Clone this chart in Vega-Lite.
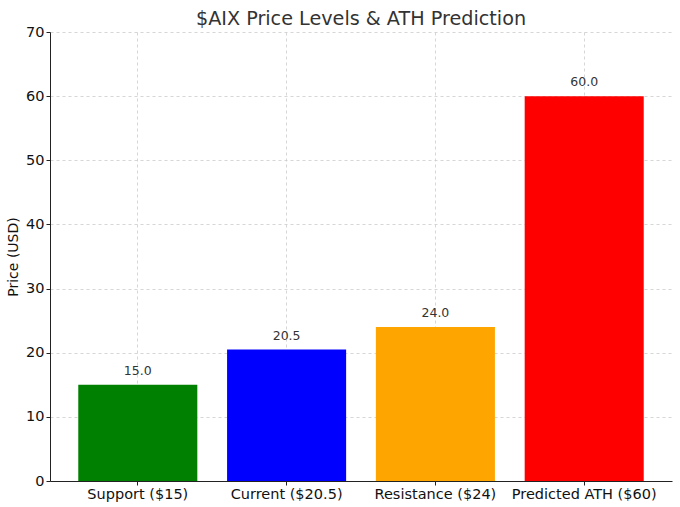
{
  "$schema": "https://vega.github.io/schema/vega-lite/v6.json",
  "autosize": "none",
  "width": 622,
  "height": 449,
  "padding": {"left": 50, "top": 32, "right": 8, "bottom": 26},
  "background": "white",
  "title": {
    "text": "$AIX Price Levels & ATH Prediction",
    "font": "DejaVu Sans",
    "fontSize": 19.2,
    "fontWeight": "normal",
    "color": "#333333",
    "offset": -5
  },
  "config": {
    "view": {"stroke": null},
    "axis": {
      "labelFont": "DejaVu Sans",
      "titleFont": "DejaVu Sans",
      "labelFontSize": 14.5,
      "titleFontSize": 14,
      "titleFontWeight": "normal",
      "labelColor": "#111111",
      "titleColor": "#111111",
      "domainColor": "#222222",
      "tickColor": "#222222",
      "gridColor": "#cccccc",
      "gridDash": [3, 3],
      "gridOpacity": 0.8,
      "tickSize": 4
    }
  },
  "data": {
    "values": [
      {"level": "Support ($15)", "price": 15.0, "color": "#008000"},
      {"level": "Current ($20.5)", "price": 20.5, "color": "#0000ff"},
      {"level": "Resistance ($24)", "price": 24.0, "color": "#ffa500"},
      {"level": "Predicted ATH ($60)", "price": 60.0, "color": "#ff0000"}
    ]
  },
  "encoding": {
    "x": {
      "field": "level",
      "type": "nominal",
      "sort": null,
      "scale": {"paddingInner": 0.2, "paddingOuter": 0.19},
      "axis": {"title": null, "labelAngle": 0, "grid": true, "labelPadding": 2}
    },
    "y": {
      "field": "price",
      "type": "quantitative",
      "scale": {"domain": [0, 70], "nice": false},
      "axis": {"title": "Price (USD)", "values": [0, 10, 20, 30, 40, 50, 60, 70], "grid": true, "titlePadding": 5}
    }
  },
  "layer": [
    {
      "mark": {"type": "bar"},
      "encoding": {
        "color": {"field": "color", "type": "nominal", "scale": null}
      }
    },
    {
      "mark": {"type": "text", "dy": -7, "baseline": "bottom", "font": "DejaVu Sans", "fontSize": 12.5, "color": "#333333"},
      "encoding": {
        "text": {"field": "price", "type": "quantitative", "format": ".1f"}
      }
    }
  ]
}
